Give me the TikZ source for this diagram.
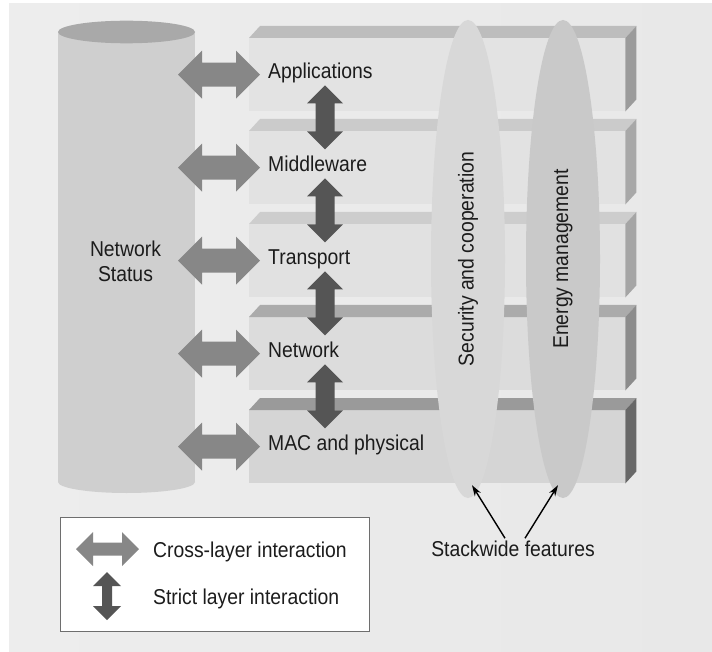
\documentclass[tikz,border=0pt]{standalone}
\usepackage{fontspec}
\setmainfont{Liberation Sans}[FakeStretch=0.9]
\usetikzlibrary{shapes.geometric,arrows.meta,calc}

% greys of the drawing
\definecolor{bgl}{HTML}{EDEDED}
\definecolor{bgm}{HTML}{F4F4F4}
\definecolor{bgr}{HTML}{E8E8E8}
\definecolor{cylbody}{HTML}{CFCFCF}
\definecolor{cyltop}{HTML}{A9A9A9}
\definecolor{frA}{HTML}{E3E3E3}\definecolor{topA}{HTML}{BDBDBD}\definecolor{sideA}{HTML}{9B9B9B}
\definecolor{frB}{HTML}{E2E2E2}\definecolor{topB}{HTML}{CBCBCB}\definecolor{sideB}{HTML}{A8A8A8}
\definecolor{frC}{HTML}{E1E1E1}\definecolor{topC}{HTML}{CDCDCD}\definecolor{sideC}{HTML}{A5A5A5}
\definecolor{frD}{HTML}{DCDCDC}\definecolor{topD}{HTML}{ABABAB}\definecolor{sideD}{HTML}{8C8C8C}
\definecolor{frE}{HTML}{D5D5D5}\definecolor{topE}{HTML}{9A9A9A}\definecolor{sideE}{HTML}{686868}
\definecolor{secfill}{HTML}{D8D8D8}
\definecolor{enfill}{HTML}{C9C9C9}
\definecolor{crossgrey}{HTML}{878787}
\definecolor{strictgrey}{HTML}{555555}
\definecolor{legendedge}{HTML}{6E6E6E}
\definecolor{ink}{HTML}{1C1C1C}

\begin{document}
\begin{tikzpicture}[x=1pt,y=-1pt,
  font=\fontsize{21.5pt}{25pt}\selectfont,
  every node/.style={text=ink},
  lbl/.style={anchor=base west, inner sep=0pt},
  layerface/.style={anchor=north west, minimum width=376pt, minimum height=73pt, inner sep=0pt, draw=none},
  feature/.style={ellipse, rotate=90, minimum width=478pt, minimum height=74pt, inner sep=0pt},
  pointer/.style={draw=black, line width=1.4pt, -{Stealth[length=11pt,width=7pt]}},
  crossarrow/.pic={\fill[crossgrey] (-41,0) -- (-17,-24) -- (-17,-12) -- (17,-12) -- (17,-24)
      -- (41,0) -- (17,24) -- (17,12) -- (-17,12) -- (-17,24) -- cycle;},
  strictarrow/.pic={\fill[strictgrey] (0,-32) -- (18,-14) -- (9.5,-14) -- (9.5,14) -- (18,14)
      -- (0,32) -- (-18,14) -- (-9.5,14) -- (-9.5,-14) -- (-18,-14) -- cycle;},
  keycross/.pic={\fill[crossgrey] (-31.5,0) -- (-14.5,-17) -- (-14.5,-6.5) -- (14.5,-6.5) -- (14.5,-17)
      -- (31.5,0) -- (14.5,17) -- (14.5,6.5) -- (-14.5,6.5) -- (-14.5,17) -- cycle;},
  keystrict/.pic={\fill[strictgrey] (0,-24) -- (14,-10) -- (5,-10) -- (5,10) -- (14,10)
      -- (0,24) -- (-14,10) -- (-5,10) -- (-5,-10) -- (-14,-10) -- cycle;}
]
\useasboundingbox (0,0) rectangle (712,652);
\fill[white] (0,0) rectangle (712,652);
\shade[left color=bgl, middle color=bgm, right color=bgr] (9,4) rectangle (712,652);

% network status cylinder
\fill[cylbody] (58,32) rectangle (195,482);
\fill[cylbody] (126.5,482) ellipse [x radius=68.5, y radius=11];
\fill[cyltop] (126.5,32) ellipse [x radius=68.5, y radius=11.3];
\node[align=center, inner sep=0pt] (status) at (125.5,261.6) {Network\\Status};

% the five protocol layers as bevelled slabs
\foreach \i/\T/\fc/\tc/\rc in {1/38/frA/topA/sideA, 2/131/frB/topB/sideB,
    3/224/frC/topC/sideC, 4/317/frD/topD/sideD, 5/410/frE/topE/sideE}{
  \node[layerface, fill=\fc] (L\i) at (249,\T) {};
  \fill[\tc] (L\i.north west) -- ++(11,-12) -- ($(L\i.north east)+(11,-12)$) -- (L\i.north east) -- cycle;
  \fill[\rc] (L\i.north east) -- ++(11,-12) -- ($(L\i.south east)+(11,-12)$) -- (L\i.south east) -- cycle;
}

% stackwide features
\node[feature, fill=secfill] (sec) at (468,259) {Security and cooperation};
\node[feature, fill=enfill] (energy) at (563,259) {Energy management};

% layer names
\node[lbl] (tApp) at ($(L1.west)+(19,4)$) {Applications};
\node[lbl] (tMid) at ($(L2.west)+(19,4)$) {Middleware};
\node[lbl] (tTra) at ($(L3.west)+(19,4)$) {Transport};
\node[lbl] (tNet) at ($(L4.west)+(19,4)$) {Network};
\node[lbl] (tMac) at ($(L5.west)+(19,4)$) {MAC and physical};

% cross-layer interaction with the status store
\foreach \i in {1,...,5}{
  \pic at ($(L\i.west)+(-30,0)$) {crossarrow};
}
% strict interaction between neighbouring layers
\foreach \i in {1,...,4}{
  \pic at ($(L\i.west)+(76,42.75)$) {strictarrow};
}

% caption for the two stackwide ellipses
\node[anchor=base, inner sep=0pt] (stack) at (513,556) {Stackwide features};
\coordinate (secTip) at ($(sec.west)+(4,-13)$);
\coordinate (enTip) at ($(energy.west)+(-5,-13)$);
\draw[pointer] ($(stack.north)+(-8,-2)$) -- (secTip);
\draw[pointer] ($(stack.north)+(12,-2)$) -- (enTip);

% key
\node[anchor=north west, draw=legendedge, fill=white, line width=1.4pt,
      minimum width=309pt, minimum height=114pt, inner sep=0pt] (legend) at (60,517) {};
\pic at (107.5,549) {keycross};
\pic at (107,596) {keystrict};
\node[lbl] (kCross) at (153,557) {Cross-layer interaction};
\node[lbl] (kStrict) at (153,604) {Strict layer interaction};
\end{tikzpicture}
\end{document}
